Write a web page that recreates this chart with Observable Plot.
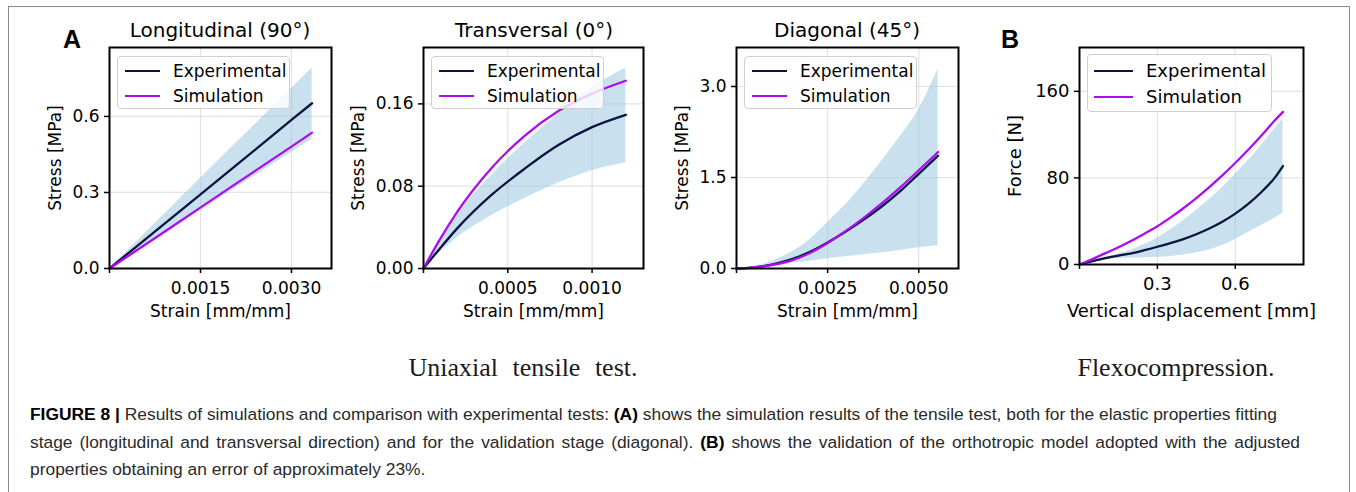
<!DOCTYPE html>
<html>
<head>
<meta charset="utf-8">
<script src="https://cdn.jsdelivr.net/npm/d3@7"></script>
<script src="https://cdn.jsdelivr.net/npm/@observablehq/plot@0.6"></script>
<style>
  html, body { margin: 0; padding: 0; background: #fff; }
  #root { position: relative; width: 1356px; height: 492px; overflow: hidden; font-family: "DejaVu Sans", sans-serif; }
  .border { position: absolute; left: 8px; top: 6px; width: 1342px; height: 600px; border: 1.5px solid #8a8a8a; box-sizing: border-box; }
  .panel { position: absolute; top: 0; }
  .panel svg { display: block; }
  .title { position: absolute; top: 20px; font-size: 20px; line-height: 20px; white-space: nowrap; transform: translateX(-50%); color: #000; }
  .tag { position: absolute; top: 27px; font: bold 25px/25px "Liberation Sans", Arial, sans-serif; color: #000; }
  .legend { position: absolute; background: rgba(255,255,255,0.8); border: 1px solid #cfcfcf; border-radius: 4px; box-sizing: border-box; z-index: 5; }
  .legend .ln { position: absolute; height: 2.4px; }
  .legend .tx { position: absolute; white-space: nowrap; color: #000; }
  .sub { position: absolute; top: 355px; font-family: "Liberation Serif", serif; font-size: 26px; line-height: 26px; white-space: nowrap; transform: translateX(-50%); color: #1a1a1a; }
  .cap { position: absolute; left: 30px; font-family: "Liberation Sans", Arial, sans-serif; font-size: 17.4px; line-height: 27.5px; color: #2a2a2a; white-space: nowrap; }
  .cap b { color: #000; }
</style>
</head>
<body>
<div id="root">
  <div class="border"></div>
</div>
<script>
// ---------------- data ----------------
const seriesNames = ["Experimental", "Simulation"];
const seriesColors = ["#0b1340", "#ab0cf0"];
const bandColor = "#93c4de";

// Panel A1 : Longitudinal (90°)
const p1Title = "Longitudinal (90°)";
const p1Strain = [0, 0.001, 0.002, 0.003, 0.00334];
const p1Exp    = [0, 0.195, 0.390, 0.586, 0.652];
const p1Sim    = [0, 0.160, 0.321, 0.481, 0.536];
const p1BandHi = [0, 0.237, 0.474, 0.710, 0.791];
const p1BandLo = [0, 0.153, 0.305, 0.458, 0.510];
const p1XTicks = [0, 0.0015, 0.0030];
const p1XTickLabels = ["", "0.0015", "0.0030"];
const p1YTicks = [0, 0.3, 0.6];
const p1YTickLabels = ["0.0", "0.3", "0.6"];

// Panel A2 : Transversal (0°)
const p2Title = "Transversal (0°)";
const p2Strain = [0, 0.0001, 0.0002, 0.0004, 0.0006, 0.0008, 0.001, 0.0012];
const p2Exp    = [0, 0.020, 0.039, 0.071, 0.097, 0.120, 0.1374, 0.1494];
const p2Sim    = [0, 0.029, 0.055, 0.097, 0.129, 0.153, 0.170, 0.1825];
const p2BandHi = [0, 0.027, 0.052, 0.090, 0.122, 0.150, 0.176, 0.1947];
const p2BandLo = [0, 0.016, 0.030, 0.051, 0.068, 0.083, 0.095, 0.1027];
const p2XTicks = [0, 0.0005, 0.0010];
const p2XTickLabels = ["", "0.0005", "0.0010"];
const p2YTicks = [0, 0.08, 0.16];
const p2YTickLabels = ["0.00", "0.08", "0.16"];

// Panel A3 : Diagonal (45°)
const p3Title = "Diagonal (45°)";
const p3Strain = [0, 0.0005, 0.001, 0.0015, 0.002, 0.0025, 0.003, 0.0035, 0.004, 0.0045, 0.005, 0.00553];
const p3Exp    = [0, 0.02, 0.07, 0.15, 0.27, 0.43, 0.61, 0.81, 1.03, 1.28, 1.56, 1.86];
const p3Sim    = [0, 0.02, 0.06, 0.13, 0.25, 0.42, 0.62, 0.84, 1.08, 1.34, 1.62, 1.92];
const p3BandX  = [0, 0.00065, 0.00125, 0.0019, 0.0025, 0.0031, 0.00375, 0.0044, 0.005, 0.00553];
const p3BandHi = [0, 0.05, 0.19, 0.42, 0.76, 1.12, 1.59, 2.10, 2.62, 3.29];
const p3BandLo = [0, 0.03, 0.07, 0.11, 0.16, 0.20, 0.245, 0.29, 0.34, 0.379];
const p3XTicks = [0, 0.0025, 0.0050];
const p3XTickLabels = ["", "0.0025", "0.0050"];
const p3YTicks = [0, 1.5, 3.0];
const p3YTickLabels = ["0.0", "1.5", "3.0"];

// Panel B : Flexocompression
const p4Disp   = [0, 0.05, 0.1, 0.15, 0.2, 0.25, 0.3, 0.35, 0.4, 0.45, 0.5, 0.55, 0.6, 0.65, 0.7, 0.75, 0.7835];
const p4Exp    = [0, 3, 5.8, 8.2, 10.3, 13.2, 16.4, 19.8, 23.5, 28, 33.2, 39.5, 47, 56, 66.8, 79.6, 91];
const p4Sim    = [0, 5, 10.5, 16, 22, 28.5, 35.3, 43.3, 52, 61.4, 71.5, 82.3, 93.8, 106, 118.9, 132.5, 141];
const p4BandHi = [0, 3.5, 6.8, 9.9, 13.5, 18.5, 24.6, 32, 40.5, 50, 60, 71, 83.5, 96, 110, 125, 134.4];
const p4BandLo = [0, 2.5, 4.5, 5.5, 6, 6.3, 6.7, 7.5, 8.8, 10.8, 13.5, 17.5, 23, 29.5, 36, 42.5, 47.7];
const p4XTicks = [0, 0.3, 0.6];
const p4XTickLabels = ["", "0.3", "0.6"];
const p4YTicks = [0, 80, 160];
const p4YTickLabels = ["0", "80", "160"];

// ---------------- drawing ----------------
const root = document.getElementById("root");

function zip(xs, ys) { return xs.map((x, i) => ({x, y: ys[i]})); }
function zipBand(xs, lo, hi) { return xs.map((x, i) => ({x, lo: lo[i], hi: hi[i]})); }

function drawPanel(c) {
  const fs = c.fs;
  const fmt = (ticks, labels) => d => labels[ticks.indexOf(d)] ?? "";
  const svg = Plot.plot({
    width: c.width, height: 330,
    marginLeft: c.mL, marginRight: c.mR, marginTop: 47, marginBottom: c.mB,
    style: {fontFamily: "DejaVu Sans", fontSize: fs + "px", color: "#000", background: "transparent", overflow: "visible"},
    x: {domain: c.xDomain},
    y: {domain: c.yDomain},
    marks: [
      Plot.gridX(c.xTicks.filter(d => d !== 0), {stroke: "#b0b0b0", strokeOpacity: 0.35, strokeWidth: 1.2}),
      Plot.gridY(c.yTicks.filter(d => d !== 0), {stroke: "#b0b0b0", strokeOpacity: 0.35, strokeWidth: 1.2}),
      Plot.areaY(c.band, {x: "x", y1: "lo", y2: "hi", fill: bandColor, fillOpacity: 0.5, curve: "monotone-x"}),
      Plot.line(c.exp, {x: "x", y: "y", stroke: seriesColors[0], strokeWidth: 2.3, curve: "monotone-x"}),
      Plot.line(c.sim, {x: "x", y: "y", stroke: seriesColors[1], strokeWidth: 2.3, curve: "monotone-x"}),
      Plot.frame({stroke: "#000", strokeWidth: 2}),
      Plot.axisX(c.xTicks, {tickFormat: fmt(c.xTicks, c.xTickLabels), tickSize: 5, tickPadding: 8, strokeWidth: 1.5,
        label: c.xLabel, labelAnchor: "center", labelOffset: c.xLabelOffset, labelArrow: "none", fontSize: fs}),
      Plot.axisY(c.yTicks, {tickFormat: fmt(c.yTicks, c.yTickLabels), tickSize: 5, tickPadding: 5, strokeWidth: 1.5,
        label: c.yLabel, labelAnchor: "center", labelOffset: c.yLabelOffset, labelArrow: "none", fontSize: fs})
    ]
  });
  const wrap = document.createElement("div");
  wrap.className = "panel";
  wrap.style.left = c.left + "px";
  wrap.appendChild(svg);
  root.appendChild(wrap);
}

function addLegend(box) {
  const d = document.createElement("div");
  d.className = "legend";
  Object.assign(d.style, {left: box.x + "px", top: box.y + "px", width: box.w + "px", height: box.h + "px"});
  seriesNames.forEach((name, i) => {
    const cy = box.rows[i];
    const ln = document.createElement("div");
    ln.className = "ln";
    Object.assign(ln.style, {left: box.lx + "px", width: box.lw + "px", top: (cy - 1.2) + "px", background: seriesColors[i]});
    const tx = document.createElement("div");
    tx.className = "tx";
    tx.textContent = name;
    Object.assign(tx.style, {left: box.tx + "px", top: (cy - 0.48 * box.fs) + "px", fontSize: box.fs + "px", lineHeight: box.fs + "px"});
    d.appendChild(ln); d.appendChild(tx);
  });
  root.appendChild(d);
}

function addDiv(cls, text, left, extra) {
  const d = document.createElement("div");
  d.className = cls;
  d.textContent = text;
  d.style.left = left + "px";
  if (extra) Object.assign(d.style, extra);
  root.appendChild(d);
  return d;
}

drawPanel({left: 0, width: 360, mL: 109, mR: 29, mB: 62, fs: 17,
  xDomain: [0, 0.00366], yDomain: [0, 0.872],
  band: zipBand(p1Strain, p1BandLo, p1BandHi), exp: zip(p1Strain, p1Exp), sim: zip(p1Strain, p1Sim),
  xTicks: p1XTicks, xTickLabels: p1XTickLabels, yTicks: p1YTicks, yTickLabels: p1YTickLabels,
  xLabel: "Strain [mm/mm]", yLabel: "Stress [MPa]", xLabelOffset: 48, yLabelOffset: 61});

drawPanel({left: 340, width: 320, mL: 83, mR: 17, mB: 62, fs: 17,
  xDomain: [0, 0.001305], yDomain: [0, 0.2148],
  band: zipBand(p2Strain, p2BandLo, p2BandHi), exp: zip(p2Strain, p2Exp), sim: zip(p2Strain, p2Sim),
  xTicks: p2XTicks, xTickLabels: p2XTickLabels, yTicks: p2YTicks, yTickLabels: p2YTickLabels,
  xLabel: "Strain [mm/mm]", yLabel: "Stress [MPa]", xLabelOffset: 48, yLabelOffset: 72});

drawPanel({left: 660, width: 320, mL: 76, mR: 22, mB: 62, fs: 17,
  xDomain: [0, 0.00609], yDomain: [0, 3.643],
  band: zipBand(p3BandX, p3BandLo, p3BandHi), exp: zip(p3Strain, p3Exp), sim: zip(p3Strain, p3Sim),
  xTicks: p3XTicks, xTickLabels: p3XTickLabels, yTicks: p3YTicks, yTickLabels: p3YTickLabels,
  xLabel: "Strain [mm/mm]", yLabel: "Stress [MPa]", xLabelOffset: 48, yLabelOffset: 61});

drawPanel({left: 990, width: 356, mL: 89, mR: 43, mB: 66, fs: 18,
  xDomain: [0, 0.8627], yDomain: [0, 200.5],
  band: zipBand(p4Disp, p4BandLo, p4BandHi), exp: zip(p4Disp, p4Exp), sim: zip(p4Disp, p4Sim),
  xTicks: p4XTicks, xTickLabels: p4XTickLabels, yTicks: p4YTicks, yTickLabels: p4YTickLabels,
  xLabel: "Vertical displacement [mm]", yLabel: "Force [N]", xLabelOffset: 52, yLabelOffset: 71});

addLegend({x: 117, y: 56, w: 173, h: 53, lx: 7, lw: 35, tx: 55, rows: [13.7, 38.7], fs: 17});
addLegend({x: 431, y: 56, w: 173, h: 53, lx: 7, lw: 35, tx: 55, rows: [13.7, 38.7], fs: 17});
addLegend({x: 744, y: 56, w: 173, h: 53, lx: 7, lw: 35, tx: 55, rows: [13.7, 38.7], fs: 17});
addLegend({x: 1087, y: 54, w: 185, h: 58, lx: 6, lw: 39, tx: 58, rows: [15.7, 42], fs: 18});

addDiv("title", p1Title, 220);
addDiv("title", p2Title, 534);
addDiv("title", p3Title, 847);
addDiv("tag", "A", 63);
addDiv("tag", "B", 1001);

addDiv("sub", "Uniaxial tensile test.", 523, {wordSpacing: "8px"});
addDiv("sub", "Flexocompression.", 1176);

const cap = document.createElement("div");
cap.className = "cap";
cap.style.top = "401px";
cap.innerHTML =
  '<div><b>FIGURE 8 |</b> Results of simulations and comparison with experimental tests: <b>(A)</b> shows the simulation results of the tensile test, both for the elastic properties fitting</div>' +
  '<div style="width:1270px;text-align:justify;text-align-last:justify;">stage (longitudinal and transversal direction) and for the validation stage (diagonal). <b>(B)</b> shows the validation of the orthotropic model adopted with the adjusted</div>' +
  '<div>properties obtaining an error of approximately 23%.</div>';
root.appendChild(cap);
</script>
</body>
</html>
